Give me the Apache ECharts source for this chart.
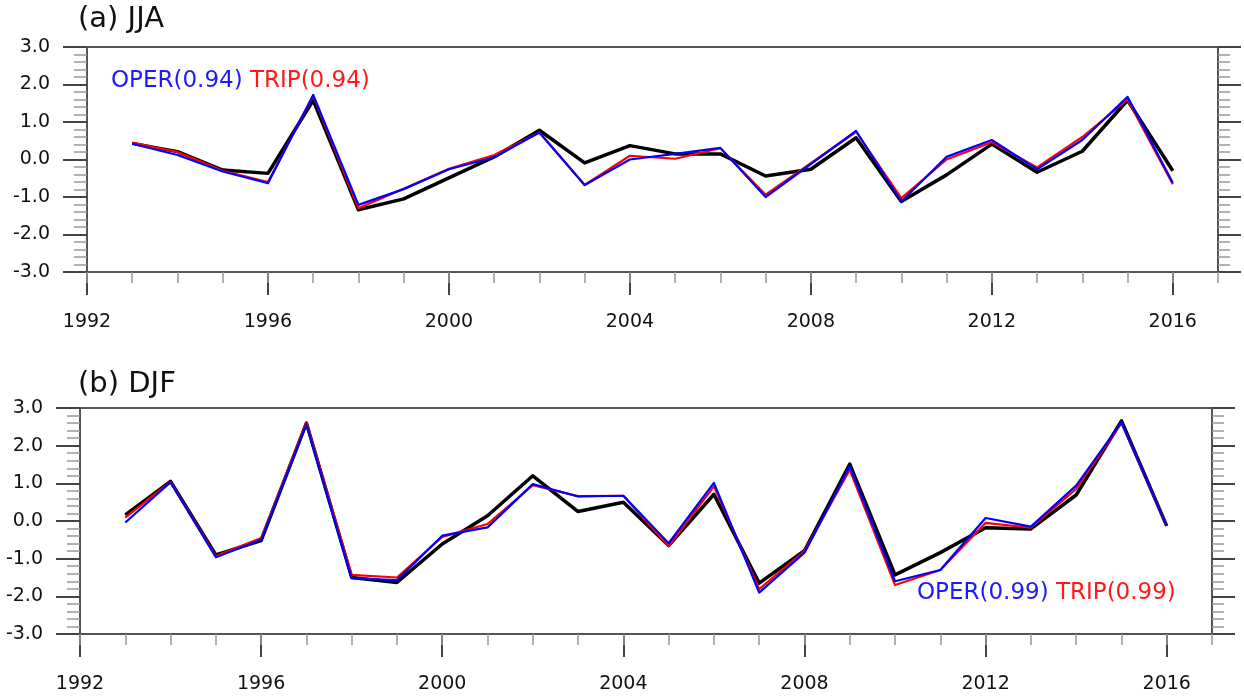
<!DOCTYPE html>
<html>
<head>
<meta charset="utf-8">
<script src="https://cdn.jsdelivr.net/npm/echarts@6/dist/echarts.min.js"></script>
<style>
html,body{margin:0;padding:0;background:#fff;}
#chart{width:1244px;height:696px;}
</style>
</head>
<body>
<div id="chart"></div>
<script>
// ---- data ----
const axisYears = ['1992','1993','1994','1995','1996','1997','1998','1999','2000','2001','2002','2003','2004',
  '2005','2006','2007','2008','2009','2010','2011','2012','2013','2014','2015','2016','2017'];
const years = ['1993','1994','1995','1996','1997','1998','1999','2000','2001','2002','2003','2004',
  '2005','2006','2007','2008','2009','2010','2011','2012','2013','2014','2015','2016'];
const yTicks = [-3, -2, -1, 0, 1, 2, 3];

const jjaObs  = [0.43, 0.21, -0.28, -0.37, 1.58, -1.34, -1.05, -0.49, 0.07, 0.78, -0.09, 0.37, 0.15, 0.15, -0.44, -0.26, 0.58, -1.12, -0.41, 0.41, -0.34, 0.22, 1.58, -0.30];
const jjaOper = [0.42, 0.12, -0.32, -0.63, 1.72, -1.21, -0.79, -0.26, 0.06, 0.72, -0.68, 0.00, 0.15, 0.31, -1.00, -0.12, 0.76, -1.12, 0.07, 0.52, -0.26, 0.52, 1.67, -0.62];
const jjaTrip = [0.45, 0.20, -0.30, -0.60, 1.70, -1.30, -0.78, -0.25, 0.12, 0.72, -0.68, 0.10, 0.02, 0.30, -0.94, -0.10, 0.74, -1.03, 0.00, 0.46, -0.21, 0.60, 1.60, -0.66];

const djfObs  = [0.16, 1.05, -0.90, -0.52, 2.60, -1.50, -1.63, -0.61, 0.14, 1.20, 0.25, 0.50, -0.65, 0.71, -1.65, -0.79, 1.51, -1.43, -0.84, -0.18, -0.21, 0.69, 2.66, -0.13];
const djfOper = [-0.04, 1.03, -0.96, -0.50, 2.57, -1.52, -1.57, -0.39, -0.17, 0.98, 0.65, 0.67, -0.59, 1.01, -1.90, -0.84, 1.45, -1.60, -1.30, 0.08, -0.15, 0.94, 2.62, -0.13];
const djfTrip = [0.09, 1.04, -0.93, -0.45, 2.62, -1.43, -1.50, -0.42, -0.08, 0.95, 0.66, 0.67, -0.67, 0.92, -1.81, -0.80, 1.36, -1.70, -1.30, -0.05, -0.18, 0.85, 2.60, -0.13];

const panelTitles = ['(a) JJA', '(b) DJF'];
const operLabels = ['OPER(0.94)', 'OPER(0.99)'];
const tripLabels = ['TRIP(0.94)', 'TRIP(0.99)'];

// ---- styles ----
const FONT = 'DejaVu Sans';
const axisColor = '#555';
const majorTickColor = '#444';
const minorTickColor = '#999';

function pairs(vals) { return years.map((y, i) => [y, vals[i]]); }

function xAxesFor(gi) {
  const every4 = (idx) => idx % 4 === 0;
  return [
    {
      gridIndex: gi, type: 'category', data: axisYears, boundaryGap: false, position: 'bottom',
      axisLine: { show: true, onZero: false, lineStyle: { color: axisColor, width: 2 } },
      axisTick: { show: true, interval: every4, length: 23, lineStyle: { color: majorTickColor, width: 2 } },
      axisLabel: { show: true, interval: every4, margin: 41, color: '#111', fontFamily: FONT, fontSize: 19 },
      splitLine: { show: false }
    },
    {
      gridIndex: gi, type: 'category', data: axisYears, boundaryGap: false, position: 'bottom',
      axisLine: { show: false, onZero: false },
      axisTick: { show: true, interval: 0, length: 11, lineStyle: { color: minorTickColor, width: 1.5 } },
      axisLabel: { show: false },
      splitLine: { show: false }
    }
  ];
}

function yAxesFor(gi) {
  return [
    {
      gridIndex: gi, type: 'value', min: yTicks[0], max: yTicks[yTicks.length - 1], interval: 1, position: 'left',
      axisLine: { show: true, onZero: false, lineStyle: { color: axisColor, width: 2 } },
      axisTick: { show: true, length: 24, lineStyle: { color: majorTickColor, width: 2 } },
      minorTick: { show: true, splitNumber: 5, length: 13, lineStyle: { color: minorTickColor, width: 1.5 } },
      axisLabel: { show: true, margin: 37, color: '#111', fontFamily: FONT, fontSize: 19,
        formatter: (v) => v.toFixed(1) },
      splitLine: { show: false }
    },
    {
      gridIndex: gi, type: 'value', min: yTicks[0], max: yTicks[yTicks.length - 1], interval: 1, position: 'right',
      axisLine: { show: true, onZero: false, lineStyle: { color: axisColor, width: 2 } },
      axisTick: { show: true, length: 23, lineStyle: { color: majorTickColor, width: 2 } },
      minorTick: { show: true, splitNumber: 5, length: 12, lineStyle: { color: minorTickColor, width: 1.5 } },
      axisLabel: { show: false },
      splitLine: { show: false }
    }
  ];
}

function lineSeries(name, vals, xi, yi, color, width, z) {
  return {
    name: name, type: 'line', xAxisIndex: xi, yAxisIndex: yi, data: pairs(vals),
    symbol: 'none', smooth: false, z: z, animation: false,
    lineStyle: { color: color, width: width, join: 'round' }
  };
}

const chart = echarts.init(document.getElementById('chart'), null, { renderer: 'canvas' });

const richStyle = {
  b: { color: '#1a1aff', fontFamily: FONT, fontSize: 23 },
  r: { color: '#ff1a1a', fontFamily: FONT, fontSize: 23 }
};

const option = {
  backgroundColor: '#ffffff',
  animation: false,
  title: [
    { text: panelTitles[0], left: 78, top: 5, padding: 0,
      textStyle: { fontFamily: FONT, fontSize: 29, fontWeight: 'normal', color: '#111' } },
    { text: panelTitles[1], left: 78, top: 370, padding: 0,
      textStyle: { fontFamily: FONT, fontSize: 29, fontWeight: 'normal', color: '#111' } },
    { text: '{b|' + operLabels[0] + '} {r|' + tripLabels[0] + '}', left: 111, top: 70, padding: 0,
      textStyle: { fontFamily: FONT, fontSize: 23, fontWeight: 'normal', rich: richStyle } },
    { text: '{b|' + operLabels[1] + '} {r|' + tripLabels[1] + '}', left: 917, top: 582, padding: 0,
      textStyle: { fontFamily: FONT, fontSize: 23, fontWeight: 'normal', rich: richStyle } }
  ],
  grid: [
    { left: 87, top: 47, width: 1131, height: 225, show: true, borderColor: axisColor, borderWidth: 2, backgroundColor: 'transparent' },
    { left: 80, top: 408, width: 1132, height: 226, show: true, borderColor: axisColor, borderWidth: 2, backgroundColor: 'transparent' }
  ],
  xAxis: [].concat(xAxesFor(0), xAxesFor(1)),
  yAxis: [].concat(yAxesFor(0), yAxesFor(1)),
  series: [
    lineSeries('OBS JJA', jjaObs, 0, 0, '#000000', 3.5, 2),
    lineSeries('TRIP JJA', jjaTrip, 0, 0, '#ff0000', 2.2, 3),
    lineSeries('OPER JJA', jjaOper, 0, 0, '#0000ff', 2.2, 4),
    lineSeries('OBS DJF', djfObs, 2, 2, '#000000', 3.5, 2),
    lineSeries('TRIP DJF', djfTrip, 2, 2, '#ff0000', 2.2, 3),
    lineSeries('OPER DJF', djfOper, 2, 2, '#0000ff', 2.2, 4)
  ]
};

chart.setOption(option);
</script>
</body>
</html>
